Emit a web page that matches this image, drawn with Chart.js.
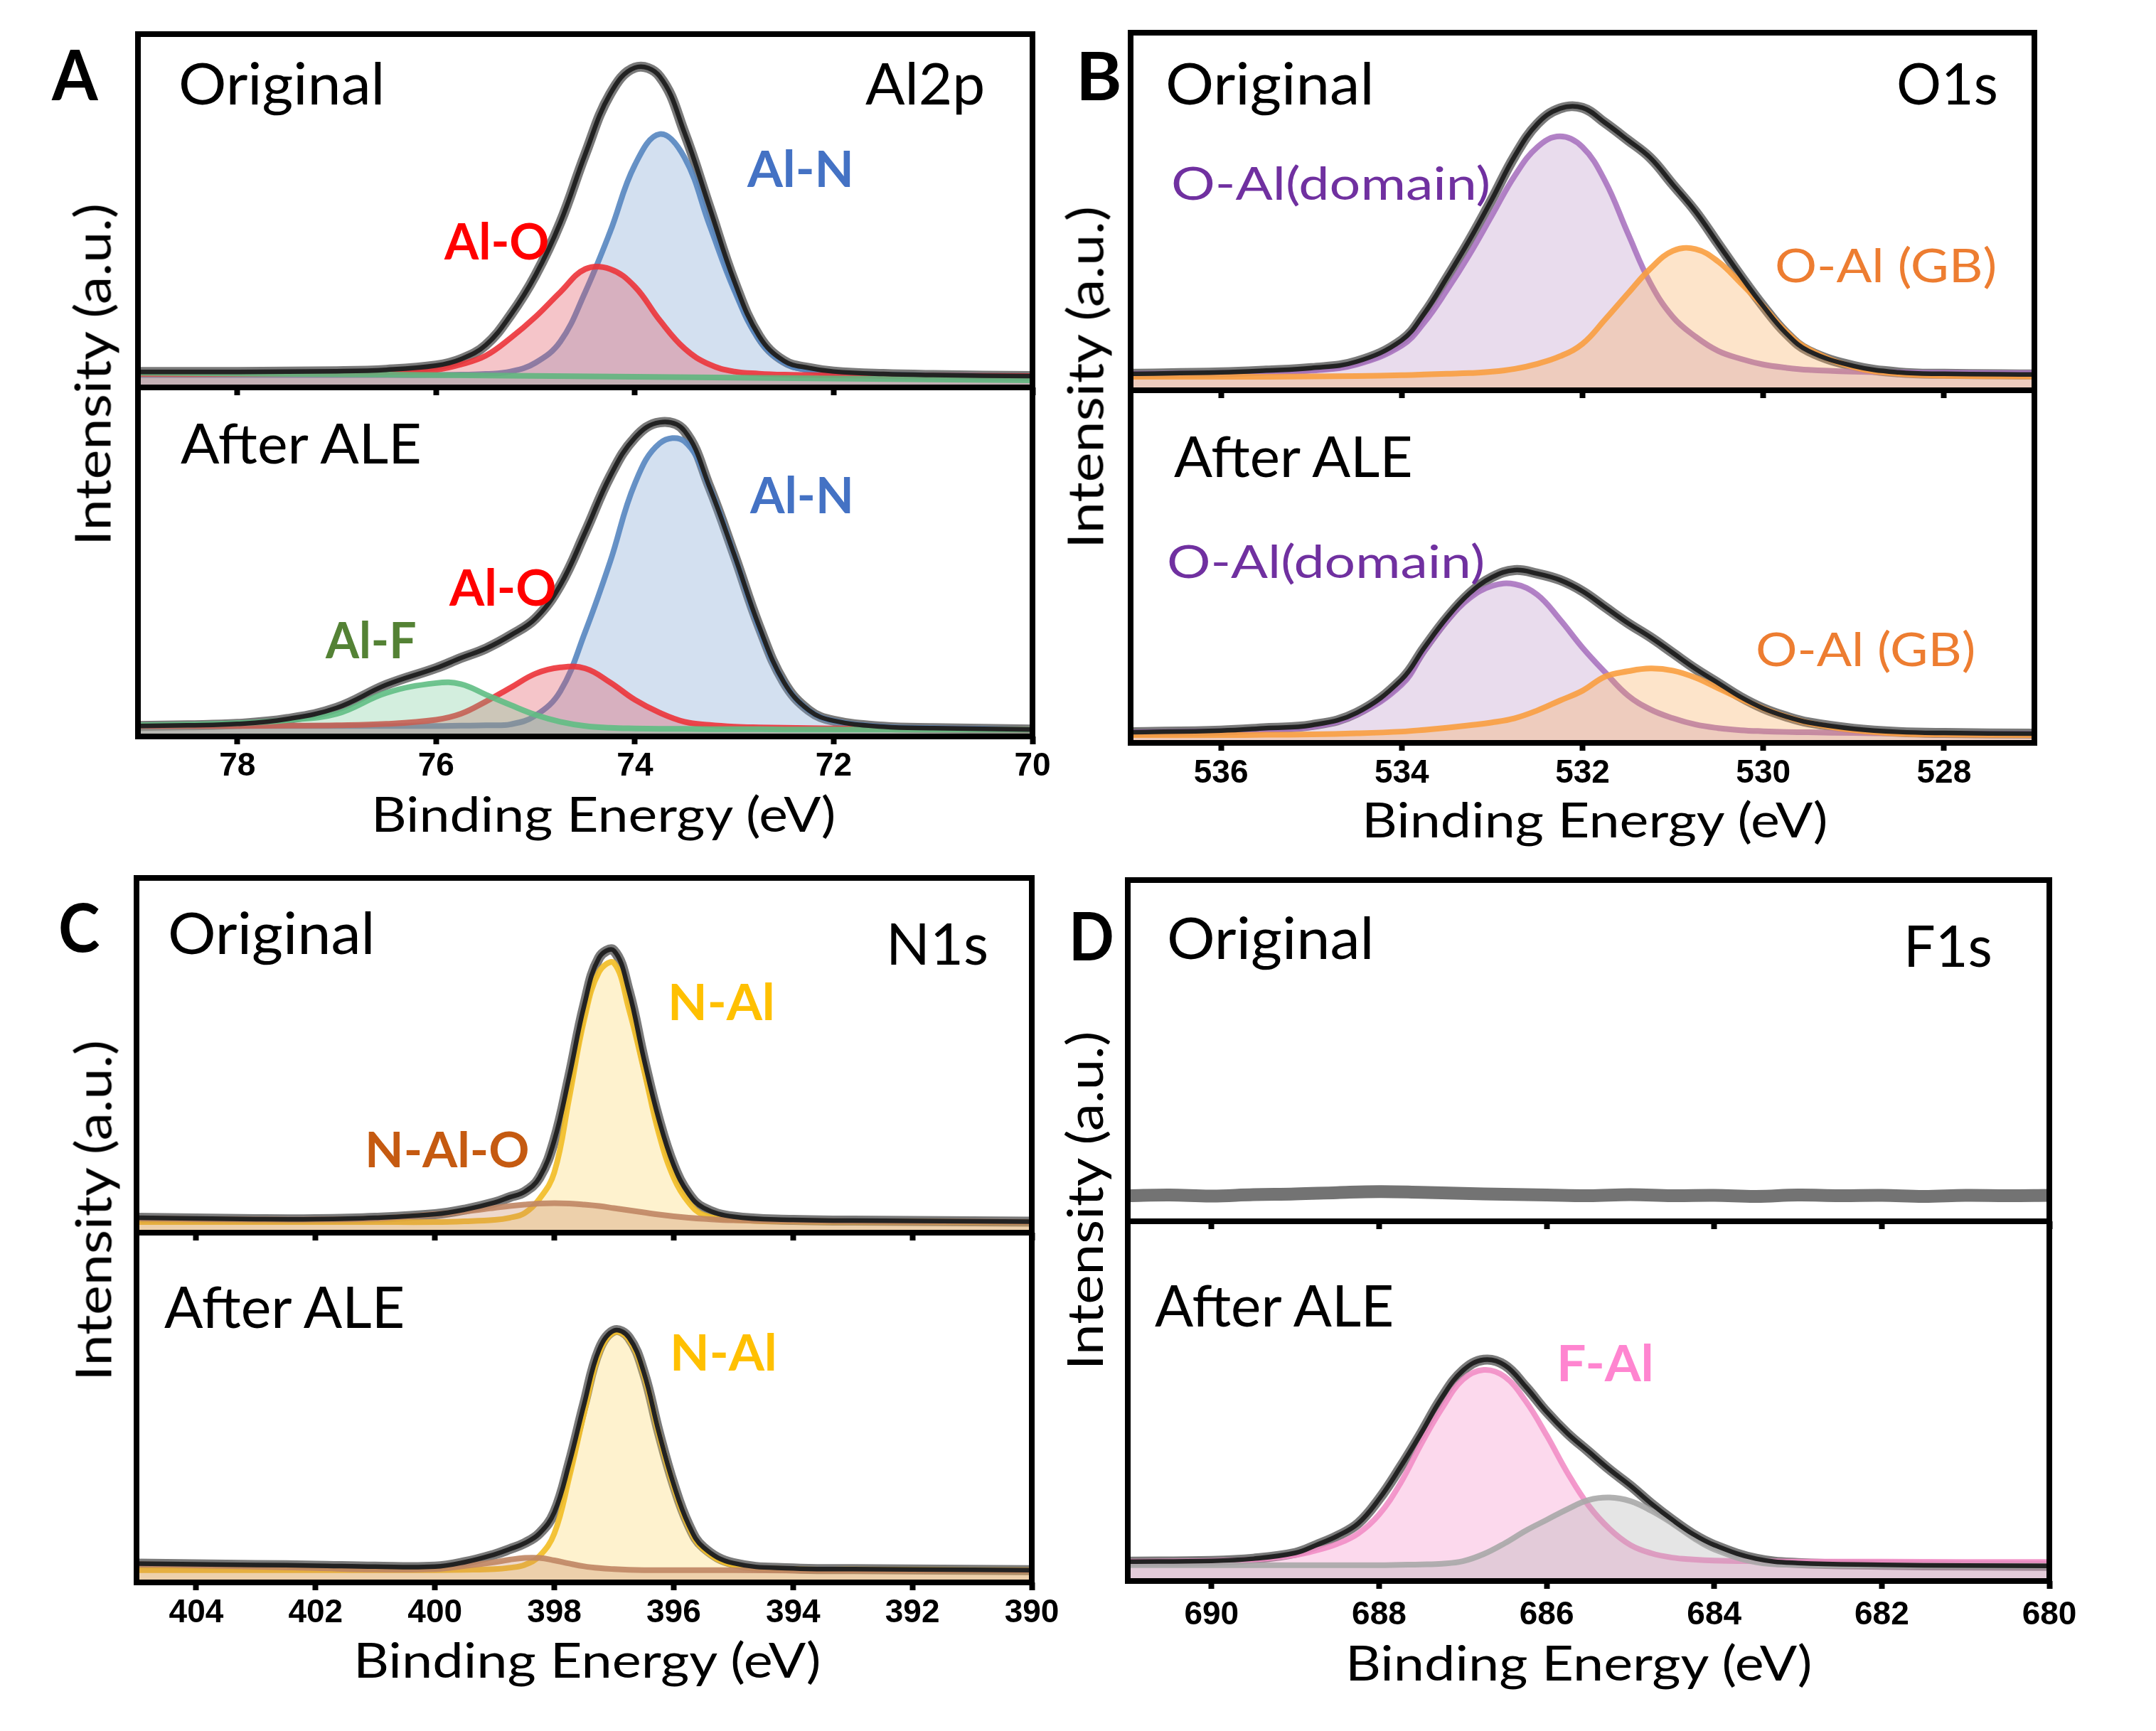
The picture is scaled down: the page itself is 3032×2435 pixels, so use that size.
<!DOCTYPE html>
<html>
<head>
<meta charset="utf-8">
<title>XPS Al2p / O1s / N1s / F1s</title>
<script src="https://cdn.jsdelivr.net/npm/chart.js@4.4.1/dist/chart.umd.min.js"></script>
<style>
  html, body { margin: 0; padding: 0; background: #fff; }
  body { position: relative; width: 3032px; height: 2435px; overflow: hidden; }
  canvas { position: absolute; }
  .lbl { position: absolute; white-space: nowrap; }
</style>
</head>
<body>
<script>
// ---- data (y = fraction of sub-panel height) ----

// tick labels (binding energy, eV)
const alTicks = [78, 76, 74, 72, 70];
const oTicks = [536, 534, 532, 530, 528];
const nTicks = [404, 402, 400, 398, 396, 394, 392, 390];
const fTicks = [690, 688, 686, 684, 682, 680];

// A: Al2p, original
const alOrigEnergy = [79, 78, 77, 76.5, 76, 75.75, 75.5, 75.25, 75, 74.75, 74.5, 74.25, 74, 73.75, 73.5, 73.25, 73, 72.75, 72.5, 72.25, 72, 71.5, 71, 70];
const alOrigEnvelope = [0.044, 0.044, 0.046, 0.05, 0.062, 0.08, 0.12, 0.205, 0.318, 0.467, 0.66, 0.83, 0.905, 0.88, 0.72, 0.51, 0.3, 0.145, 0.075, 0.055, 0.045, 0.038, 0.035, 0.032];
const alOrigAlN = [0.035, 0.035, 0.035, 0.035, 0.035, 0.036, 0.038, 0.045, 0.07, 0.13, 0.27, 0.44, 0.63, 0.717, 0.65, 0.46, 0.275, 0.135, 0.07, 0.048, 0.04, 0.036, 0.034, 0.032];
const alOrigAlO = [0.038, 0.038, 0.04, 0.043, 0.05, 0.065, 0.09, 0.14, 0.2, 0.27, 0.335, 0.335, 0.285, 0.19, 0.11, 0.065, 0.045, 0.039, 0.036, 0.035, 0.034, 0.033, 0.033, 0.032];
const alOrigBgEnergy = [79, 74, 70];
const alOrigBg = [0.042, 0.03, 0.02];

// A: Al2p, after ALE
const alAleEnergy = [79, 78.5, 78, 77.5, 77, 76.5, 76, 75.75, 75.5, 75.25, 75, 74.75, 74.5, 74.25, 74, 73.75, 73.5, 73.25, 73, 72.75, 72.5, 72.25, 72, 71.5, 71, 70];
const alAleEnvelope = [0.03, 0.032, 0.036, 0.05, 0.082, 0.148, 0.196, 0.225, 0.252, 0.29, 0.338, 0.434, 0.585, 0.745, 0.856, 0.9, 0.875, 0.715, 0.52, 0.315, 0.155, 0.075, 0.045, 0.028, 0.024, 0.02];
const alAleAlN = [0.03, 0.03, 0.03, 0.03, 0.03, 0.03, 0.03, 0.031, 0.032, 0.035, 0.06, 0.13, 0.3, 0.5, 0.725, 0.84, 0.845, 0.715, 0.52, 0.31, 0.155, 0.075, 0.045, 0.028, 0.024, 0.02];
const alAleAlO = [0.03, 0.03, 0.03, 0.031, 0.032, 0.036, 0.048, 0.065, 0.1, 0.14, 0.18, 0.198, 0.195, 0.155, 0.105, 0.068, 0.042, 0.033, 0.028, 0.026, 0.025, 0.024, 0.023, 0.022, 0.021, 0.02];
const alAleAlF = [0.032, 0.034, 0.038, 0.047, 0.065, 0.125, 0.153, 0.15, 0.12, 0.09, 0.062, 0.042, 0.03, 0.025, 0.023, 0.022, 0.022, 0.021, 0.021, 0.021, 0.02, 0.02, 0.02, 0.02, 0.02, 0.02];

// B: O1s
const oEnergy = [537, 536, 535.5, 535, 534.5, 534, 533.75, 533.5, 533.25, 533, 532.75, 532.5, 532.25, 532, 531.75, 531.5, 531.25, 531, 530.75, 530.5, 530.25, 530, 529.75, 529.5, 529, 528.5, 528, 527];
const oOrigEnvelope = [0.046, 0.05, 0.055, 0.062, 0.08, 0.14, 0.215, 0.315, 0.42, 0.535, 0.655, 0.745, 0.788, 0.79, 0.748, 0.70, 0.65, 0.575, 0.50, 0.41, 0.32, 0.235, 0.16, 0.11, 0.068, 0.05, 0.046, 0.044];
const oOrigDomain = [0.046, 0.048, 0.05, 0.055, 0.072, 0.125, 0.19, 0.28, 0.38, 0.49, 0.6, 0.68, 0.71, 0.68, 0.585, 0.44, 0.3, 0.205, 0.15, 0.11, 0.088, 0.072, 0.063, 0.057, 0.052, 0.05, 0.049, 0.048];
const oOrigGB = [0.038, 0.038, 0.038, 0.039, 0.04, 0.042, 0.044, 0.046, 0.048, 0.052, 0.06, 0.074, 0.095, 0.13, 0.198, 0.27, 0.34, 0.39, 0.395, 0.36, 0.3, 0.235, 0.165, 0.115, 0.065, 0.046, 0.041, 0.039];
const oAleEnvelope = [0.03, 0.035, 0.042, 0.05, 0.085, 0.18, 0.27, 0.355, 0.424, 0.47, 0.49, 0.48, 0.462, 0.43, 0.385, 0.34, 0.3, 0.255, 0.21, 0.17, 0.13, 0.098, 0.075, 0.058, 0.04, 0.031, 0.028, 0.026];
const oAleDomain = [0.03, 0.033, 0.037, 0.045, 0.08, 0.165, 0.26, 0.345, 0.41, 0.445, 0.45, 0.42, 0.35, 0.27, 0.2, 0.135, 0.095, 0.07, 0.052, 0.042, 0.036, 0.033, 0.031, 0.03, 0.028, 0.027, 0.026, 0.025];
const oAleGB = [0.022, 0.022, 0.023, 0.024, 0.027, 0.032, 0.037, 0.043, 0.05, 0.058, 0.07, 0.092, 0.12, 0.148, 0.188, 0.203, 0.211, 0.205, 0.185, 0.155, 0.125, 0.098, 0.075, 0.057, 0.036, 0.026, 0.024, 0.022];

// C: N1s
const nEnergy = [405, 404, 403, 402, 401, 400, 399.5, 399, 398.75, 398.5, 398.25, 398, 397.75, 397.5, 397.25, 397, 396.75, 396.5, 396.25, 396, 395.75, 395.5, 395, 394, 393, 392, 391, 390];
const nOrigEnvelope = [0.042, 0.04, 0.038, 0.038, 0.042, 0.052, 0.065, 0.085, 0.1, 0.115, 0.155, 0.26, 0.44, 0.64, 0.775, 0.795, 0.68, 0.49, 0.32, 0.19, 0.11, 0.07, 0.045, 0.036, 0.034, 0.033, 0.032, 0.031];
const nOrigNAl = [0.03, 0.03, 0.03, 0.03, 0.03, 0.03, 0.032, 0.036, 0.042, 0.055, 0.095, 0.17, 0.38, 0.6, 0.735, 0.76, 0.63, 0.46, 0.28, 0.155, 0.085, 0.05, 0.036, 0.032, 0.031, 0.031, 0.03, 0.03];
const nOrigNAlO = [0.04, 0.038, 0.037, 0.037, 0.04, 0.052, 0.06, 0.07, 0.075, 0.079, 0.082, 0.083, 0.082, 0.079, 0.075, 0.069, 0.063, 0.057, 0.051, 0.046, 0.042, 0.039, 0.035, 0.033, 0.032, 0.031, 0.031, 0.03];
const nAleEnvelope = [0.054, 0.052, 0.05, 0.048, 0.045, 0.045, 0.058, 0.08, 0.095, 0.112, 0.14, 0.2, 0.34, 0.51, 0.665, 0.72, 0.7, 0.6, 0.43, 0.28, 0.165, 0.1, 0.055, 0.04, 0.038, 0.037, 0.036, 0.035];
const nAleNAl = [0.035, 0.035, 0.035, 0.035, 0.035, 0.035, 0.036, 0.038, 0.042, 0.05, 0.075, 0.14, 0.3, 0.485, 0.655, 0.715, 0.695, 0.595, 0.425, 0.275, 0.16, 0.095, 0.05, 0.038, 0.037, 0.036, 0.035, 0.035];
const nAleNAlO = [0.052, 0.049, 0.045, 0.041, 0.037, 0.038, 0.047, 0.058, 0.065, 0.07, 0.07, 0.063, 0.054, 0.046, 0.041, 0.038, 0.036, 0.035, 0.035, 0.035, 0.035, 0.035, 0.035, 0.034, 0.034, 0.034, 0.034, 0.034];

// D: F1s
const fOrigEnergy = [691, 690.5, 690, 689.5, 689, 688.5, 688, 687.5, 687, 686.5, 686, 685.5, 685, 684.5, 684, 683.5, 683, 682.5, 682, 681.5, 681, 680.5, 680];
const fOrigData = [0.075, 0.077, 0.074, 0.078, 0.08, 0.084, 0.087, 0.085, 0.082, 0.079, 0.077, 0.075, 0.078, 0.075, 0.076, 0.073, 0.077, 0.075, 0.076, 0.073, 0.076, 0.075, 0.076];
const fAleEnergy = [691, 690, 689.5, 689, 688.75, 688.5, 688.25, 688, 687.75, 687.5, 687.25, 687, 686.75, 686.5, 686.25, 686, 685.75, 685.5, 685.25, 685, 684.75, 684.5, 684.25, 684, 683.5, 683, 682, 681, 680];
const fAleEnvelope = [0.054, 0.056, 0.062, 0.078, 0.1, 0.125, 0.16, 0.228, 0.315, 0.41, 0.51, 0.585, 0.615, 0.6, 0.54, 0.47, 0.41, 0.36, 0.31, 0.265, 0.215, 0.17, 0.13, 0.1, 0.062, 0.05, 0.045, 0.043, 0.042];
const fAleFAl = [0.054, 0.056, 0.06, 0.072, 0.085, 0.103, 0.132, 0.185, 0.27, 0.38, 0.48, 0.56, 0.587, 0.568, 0.5, 0.405, 0.3, 0.21, 0.145, 0.1, 0.077, 0.065, 0.06, 0.057, 0.055, 0.054, 0.054, 0.053, 0.053];
const fAleOther = [0.044, 0.044, 0.044, 0.044, 0.044, 0.044, 0.044, 0.044, 0.045, 0.046, 0.048, 0.055, 0.075, 0.105, 0.14, 0.17, 0.2, 0.225, 0.232, 0.222, 0.195, 0.16, 0.12, 0.088, 0.052, 0.045, 0.043, 0.042, 0.042];

// ---- styles ----
const TEXT_FONT = "Lato, 'Open Sans', 'Noto Sans', sans-serif";
const TICK_FONT = "'Liberation Sans', Arial, sans-serif";
const PAD = 50;

const ENVELOPE = { line: '#222222', width: 6.5 };
const DATA = { line: '#7a7a7a', width: 14 };
const STYLE = {
  alN:   { line: 'rgba(86,134,192,0.9)',  fill: 'rgba(120,160,210,0.33)' },
  alO:   { line: 'rgba(236,52,58,0.9)',   fill: 'rgba(225,80,90,0.33)' },
  alF:   { line: 'rgba(96,190,132,0.9)',  fill: 'rgba(110,200,145,0.3)' },
  bg:    { line: 'rgba(96,182,128,0.9)',  fill: 'rgba(140,180,150,0.25)' },
  dom:   { line: 'rgba(170,116,192,0.9)', fill: 'rgba(175,130,190,0.28)' },
  gb:    { line: 'rgba(249,158,64,0.9)',  fill: 'rgba(250,165,80,0.3)' },
  nAl:   { line: 'rgba(242,190,40,0.92)', fill: 'rgba(250,210,80,0.28)' },
  nAlO:  { line: 'rgba(192,134,100,0.9)', fill: 'rgba(200,130,90,0.3)' },
  fAl:   { line: 'rgba(242,142,198,0.9)', fill: 'rgba(245,140,200,0.33)' },
  other: { line: 'rgba(168,168,168,0.9)', fill: 'rgba(170,170,170,0.3)' }
};

// higher order is painted first (lower layer)
function curve(xs, ys, style, order) {
  return {
    data: xs.map((x, i) => ({ x: x, y: ys[i] })),
    borderColor: style.line,
    borderWidth: style.width || 8,
    backgroundColor: style.fill || 'transparent',
    fill: style.fill ? 'origin' : false,
    pointRadius: 0,
    tension: 0.4,
    order: order
  };
}

const framePlugin = {
  id: 'frame',
  afterDraw(chart) {
    const a = chart.chartArea, ctx = chart.ctx;
    ctx.save();
    ctx.lineWidth = 8;
    ctx.strokeStyle = '#000';
    ctx.strokeRect(a.left, a.top, a.right - a.left, a.bottom - a.top);
    ctx.restore();
  }
};

function subplot(rect, xMin, xMax, tickValues, datasets, tickLabels, tickPad) {
  const axisH = tickLabels ? 95 : 22;
  const W = rect.w + 2 * PAD, H = rect.h + PAD + axisH;
  const cv = document.createElement('canvas');
  cv.width = W; cv.height = H;
  cv.style.left = (rect.x - PAD) + 'px';
  cv.style.top = (rect.y - PAD) + 'px';
  cv.style.width = W + 'px'; cv.style.height = H + 'px';
  document.body.appendChild(cv);
  new Chart(cv.getContext('2d'), {
    type: 'line',
    data: { datasets: datasets },
    options: {
      responsive: false,
      animation: false,
      devicePixelRatio: 1,
      layout: { padding: { left: PAD, right: PAD, top: PAD, bottom: 0 } },
      plugins: {
        legend: { display: false },
        tooltip: { enabled: false }
      },
      scales: {
        x: {
          type: 'linear', reverse: true, min: xMin, max: xMax,
          afterBuildTicks: s => { s.ticks = tickValues.map(v => ({ value: v })); },
          afterFit: s => { s.height = axisH; },
          border: { display: false },
          grid: { drawOnChartArea: false, drawTicks: true, tickLength: 11, tickWidth: 8, tickColor: '#000' },
          ticks: {
            display: tickLabels, autoSkip: false, maxRotation: 0,
            padding: tickPad || 5, color: '#000',
            font: { family: TICK_FONT, size: 46, weight: 'bold' }
          }
        },
        y: { display: false, min: 0, max: 1 }
      }
    },
    plugins: [framePlugin]
  });
}

// ---- panel A ----
subplot({ x: 194, y: 48, w: 1258, h: 497 }, 70, 79, alTicks, [
  curve(alOrigEnergy, alOrigEnvelope, ENVELOPE, 0),
  curve(alOrigBgEnergy, alOrigBg, STYLE.bg, 1),
  curve(alOrigEnergy, alOrigAlO, STYLE.alO, 2),
  curve(alOrigEnergy, alOrigAlN, STYLE.alN, 3),
  curve(alOrigEnergy, alOrigEnvelope, DATA, 10)
], false);
subplot({ x: 194, y: 545, w: 1258, h: 491 }, 70, 79, alTicks, [
  curve(alAleEnergy, alAleEnvelope, ENVELOPE, 0),
  curve(alAleEnergy, alAleAlF, STYLE.alF, 1),
  curve(alAleEnergy, alAleAlO, STYLE.alO, 2),
  curve(alAleEnergy, alAleAlN, STYLE.alN, 3),
  curve(alAleEnergy, alAleEnvelope, DATA, 10)
], true, 4);

// ---- panel B ----
subplot({ x: 1590, y: 46, w: 1271, h: 503 }, 527, 537, oTicks, [
  curve(oEnergy, oOrigEnvelope, ENVELOPE, 0),
  curve(oEnergy, oOrigGB, STYLE.gb, 1),
  curve(oEnergy, oOrigDomain, STYLE.dom, 2),
  curve(oEnergy, oOrigEnvelope, DATA, 10)
], false);
subplot({ x: 1590, y: 549, w: 1271, h: 496 }, 527, 537, oTicks, [
  curve(oEnergy, oAleEnvelope, ENVELOPE, 0),
  curve(oEnergy, oAleGB, STYLE.gb, 1),
  curve(oEnergy, oAleDomain, STYLE.dom, 2),
  curve(oEnergy, oAleEnvelope, DATA, 10)
], true, 5);

// ---- panel C ----
subplot({ x: 192, y: 1235, w: 1259, h: 499 }, 390, 405, nTicks, [
  curve(nEnergy, nOrigEnvelope, ENVELOPE, 0),
  curve(nEnergy, nOrigNAlO, STYLE.nAlO, 1),
  curve(nEnergy, nOrigNAl, STYLE.nAl, 2),
  curve(nEnergy, nOrigEnvelope, DATA, 10)
], false);
subplot({ x: 192, y: 1734, w: 1259, h: 492 }, 390, 405, nTicks, [
  curve(nEnergy, nAleEnvelope, ENVELOPE, 0),
  curve(nEnergy, nAleNAlO, STYLE.nAlO, 1),
  curve(nEnergy, nAleNAl, STYLE.nAl, 2),
  curve(nEnergy, nAleEnvelope, DATA, 10)
], true, 5);

// ---- panel D ----
subplot({ x: 1586, y: 1238, w: 1296, h: 480 }, 680, 691, fTicks, [
  curve(fOrigEnergy, fOrigData, { line: '#737373', width: 18 }, 10)
], false);
subplot({ x: 1586, y: 1718, w: 1296, h: 506 }, 680, 691, fTicks, [
  curve(fAleEnergy, fAleEnvelope, ENVELOPE, 0),
  curve(fAleEnergy, fAleOther, STYLE.other, 1),
  curve(fAleEnergy, fAleFAl, STYLE.fAl, 2),
  curve(fAleEnergy, fAleEnvelope, DATA, 10)
], true, 10);

// ---- text ----
const BLUE = '#4472C4', RED = '#FF0000', GREEN = '#548235', PURPLE = '#7030A0',
      ORANGE = '#ED7D31', GOLD = '#FFC000', BROWN = '#C55A11', PINK = '#FF85D0';
const LABELS = [
  { t: 'A', x: 72, top: 70, h: 71, w: 67, bold: true },
  { t: 'Original', x: 254, top: 89, h: 59, w: 282 },
  { t: 'Al2p', x: 1217, top: 89, h: 59, w: 165 },
  { t: 'Al-N', x: 1050, top: 213, h: 51, w: 146, c: BLUE, bold: true },
  { t: 'Al-O', x: 624, top: 315, h: 51, w: 146, c: RED, bold: true },
  { t: 'After ALE', x: 254, top: 595, h: 57, w: 340 },
  { t: 'Al-N', x: 1054, top: 670, h: 52, w: 142, c: BLUE, bold: true },
  { t: 'Al-O', x: 631, top: 802, h: 51, w: 149, c: RED, bold: true },
  { t: 'Al-F', x: 457, top: 876, h: 51, w: 127, c: GREEN, bold: true },
  { t: 'Binding Energy (eV)', x: 529, top: 1121, h: 50, w: 646 },
  { t: 'Intensity (a.u.)', rot: true, cx: 131, cy: 524, h: 51, w: 474 },

  { t: 'B', x: 1520, top: 73, h: 69, w: 54, bold: true },
  { t: 'Original', x: 1642, top: 89, h: 59, w: 285 },
  { t: 'O1s', x: 2670, top: 89, h: 59, w: 137 },
  { t: 'O-Al(domain)', x: 1651, top: 234, h: 47, w: 443, c: PURPLE },
  { t: 'O-Al (GB)', x: 2499, top: 349, h: 48, w: 306, c: ORANGE },
  { t: 'After ALE', x: 1651, top: 613, h: 58, w: 337 },
  { t: 'O-Al(domain)', x: 1645, top: 766, h: 47, w: 441, c: PURPLE },
  { t: 'O-Al (GB)', x: 2472, top: 889, h: 48, w: 303, c: ORANGE },
  { t: 'Binding Energy (eV)', x: 1922, top: 1129, h: 50, w: 648 },
  { t: 'Intensity (a.u.)', rot: true, cx: 1527, cy: 528, h: 51, w: 474 },

  { t: 'C', x: 85, top: 1272, h: 68, w: 55, bold: true },
  { t: 'Original', x: 239, top: 1284, h: 59, w: 283 },
  { t: 'N1s', x: 1253, top: 1299, h: 59, w: 134 },
  { t: 'N-Al', x: 944, top: 1383, h: 52, w: 142, c: GOLD, bold: true },
  { t: 'N-Al-O', x: 518, top: 1593, h: 50, w: 224, c: BROWN, bold: true },
  { t: 'After ALE', x: 231, top: 1810, h: 59, w: 340 },
  { t: 'N-Al', x: 947, top: 1876, h: 52, w: 142, c: GOLD, bold: true },
  { t: 'Binding Energy (eV)', x: 504, top: 2311, h: 50, w: 650 },
  { t: 'Intensity (a.u.)', rot: true, cx: 132, cy: 1700, h: 51, w: 472 },

  { t: 'D', x: 1509, top: 1283, h: 69, w: 55, bold: true },
  { t: 'Original', x: 1644, top: 1291, h: 59, w: 283 },
  { t: 'F1s', x: 2684, top: 1302, h: 59, w: 115 },
  { t: 'After ALE', x: 1624, top: 1808, h: 59, w: 338 },
  { t: 'F-Al', x: 2194, top: 1893, h: 51, w: 127, c: PINK, bold: true },
  { t: 'Binding Energy (eV)', x: 1899, top: 2315, h: 50, w: 649 },
  { t: 'Intensity (a.u.)', rot: true, cx: 1527, cy: 1686, h: 51, w: 469 }
];

const mctx = document.createElement('canvas').getContext('2d');
function placeLabel(L) {
  const weight = L.bold ? 'bold' : 'normal';
  mctx.font = weight + ' 100px ' + TEXT_FONT;
  const capRatio = mctx.measureText('H').actualBoundingBoxAscent / 100;
  const fs = L.h / capRatio;
  const font = weight + ' ' + fs + 'px ' + TEXT_FONT;
  mctx.font = font;
  const m = mctx.measureText(L.t);
  const asc = m.fontBoundingBoxAscent, desc = m.fontBoundingBoxDescent;
  const inkW = m.actualBoundingBoxLeft + m.actualBoundingBoxRight;
  const k = L.w / inkW;
  const baseOff = (fs - (asc + desc)) / 2 + asc;

  const div = document.createElement('div');
  div.className = 'lbl';
  div.textContent = L.t;
  div.style.font = font;
  div.style.lineHeight = fs + 'px';
  div.style.height = fs + 'px';
  div.style.color = L.c || '#000';
  if (!L.rot) {
    div.style.transformOrigin = '0 0';
    div.style.left = (L.x + m.actualBoundingBoxLeft * k) + 'px';
    div.style.top = (L.top + L.h - baseOff) + 'px';
    div.style.transform = 'scaleX(' + k + ')';
  } else {
    const adv = m.width;
    div.style.width = adv + 'px';
    const dxl = (m.actualBoundingBoxRight - m.actualBoundingBoxLeft) / 2 - adv / 2;
    const dyl = (baseOff - L.h / 2) - fs / 2;
    const bx = L.cx - dyl, by = L.cy + k * dxl;
    div.style.left = (bx - adv / 2) + 'px';
    div.style.top = (by - fs / 2) + 'px';
    div.style.transformOrigin = '50% 50%';
    div.style.transform = 'rotate(-90deg) scaleX(' + k + ')';
  }
  document.body.appendChild(div);
}
LABELS.forEach(placeLabel);
</script>
</body>
</html>
